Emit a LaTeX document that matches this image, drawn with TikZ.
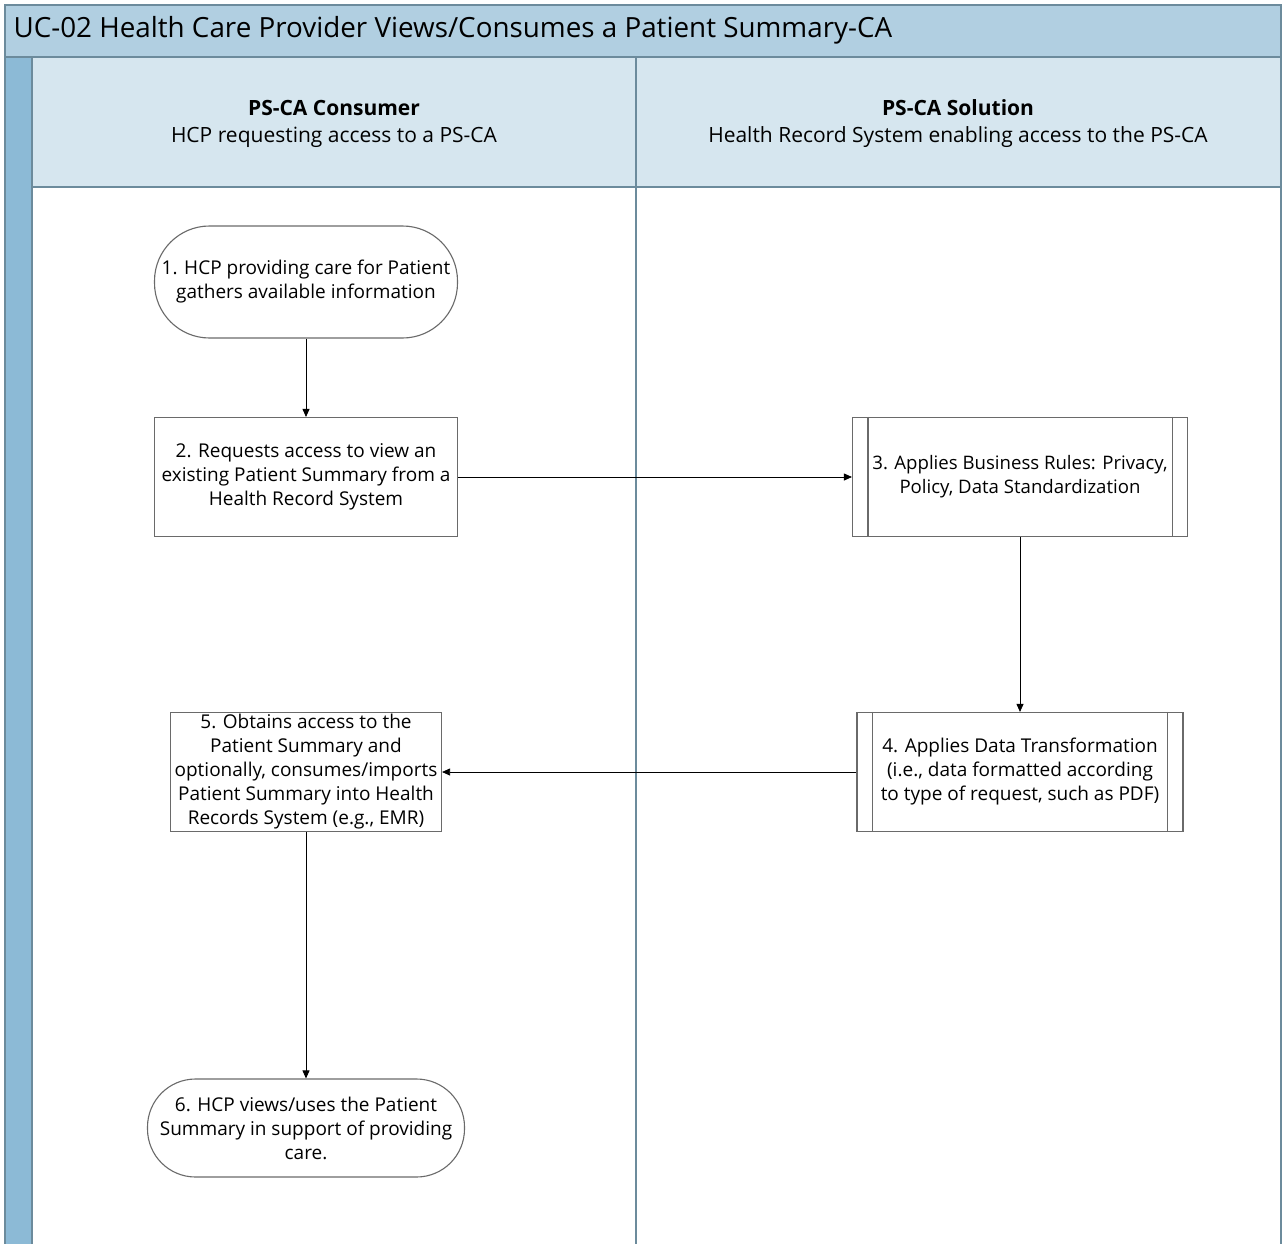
\documentclass[tikz,border=0pt]{standalone}
\usepackage{fontspec}
\setmainfont{Open Sans}
\usetikzlibrary{arrows.meta,calc}
\definecolor{titlebg}{HTML}{B1CFE1}
\definecolor{stripe}{HTML}{8CBAD6}
\definecolor{headbg}{HTML}{D6E6EF}
\definecolor{laneline}{HTML}{6C8B9C}
\definecolor{boxline}{HTML}{6A6A6A}
\begin{document}
\begin{tikzpicture}[x=1pt,y=-1pt,
  every node/.style={font=\fontsize{19}{24}\selectfont, text=black},
  stepbox/.style={draw=boxline, line width=1.1pt, fill=white, align=center, inner sep=1pt},
  termbox/.style={stepbox, rounded corners=#1},
  flow/.style={draw=black, line width=0.8pt, -{Triangle[length=8pt,width=7pt]}},
  lanehead/.style={align=center, font=\fontsize{21}{27}\selectfont}
]
\useasboundingbox (0,0) rectangle (1282,1244);
% frame
\fill[white] (5,5) rectangle (1281,1244);
\fill[titlebg] (5,5) rectangle (1281,57);
\fill[stripe] (5,57) rectangle (32,1244);
\fill[headbg] (32,57) rectangle (1281,187);
\draw[laneline, line width=1.2pt] (5,1244) -- (5,5) -- (1281,5) -- (1281,1244);
\draw[laneline, line width=1.2pt] (5,57) -- (1281,57);
\draw[laneline, line width=1.2pt] (32,57) -- (32,1244);
\draw[laneline, line width=1.2pt] (32,187) -- (1281,187);
\draw[laneline, line width=1.2pt] (636,57) -- (636,1244);
\node[anchor=west, font=\fontsize{27.8}{32}\selectfont] (title) at (10,30) {UC-02 Health Care Provider Views/Consumes a Patient Summary-CA};
\node[lanehead] (h1) at (334,124) {\textbf{PS-CA Consumer}\\HCP requesting access to a PS-CA};
\node[lanehead] (h2) at (958,124) {\textbf{PS-CA Solution}\\Health Record System enabling access to the PS-CA};
% nodes
\node[termbox=55pt, minimum width=303pt, minimum height=112pt] (n1) at (306,282) {1. HCP providing care for Patient\\gathers available information};
\node[stepbox, minimum width=303pt, minimum height=119pt] (n2) at (306,477) {2. Requests access to view an\\existing Patient Summary from a\\Health Record System};
\node[stepbox, minimum width=335pt, minimum height=119pt, font=\fontsize{18.6}{24}\selectfont] (n3) at (1020,477) {3. Applies Business Rules: Privacy,\\Policy, Data Standardization};
\draw[boxline, line width=1.1pt] ($(n3.north west)+(16,0)$) -- ($(n3.south west)+(16,0)$);
\draw[boxline, line width=1.1pt] ($(n3.north east)+(-16,0)$) -- ($(n3.south east)+(-16,0)$);
\node[stepbox, minimum width=326pt, minimum height=119pt] (n4) at (1020,772) {4. Applies Data Transformation\\(i.e., data formatted according\\to type of request, such as PDF)};
\draw[boxline, line width=1.1pt] ($(n4.north west)+(16,0)$) -- ($(n4.south west)+(16,0)$);
\draw[boxline, line width=1.1pt] ($(n4.north east)+(-16,0)$) -- ($(n4.south east)+(-16,0)$);
\node[stepbox, minimum width=271pt, minimum height=119pt] (n5) at (306,772) {5. Obtains access to the\\Patient Summary and\\optionally, consumes/imports\\Patient Summary into Health\\Records System (e.g., EMR)};
\node[termbox=48pt, minimum width=317pt, minimum height=98pt] (n6) at (306,1128) {6. HCP views/uses the Patient\\Summary in support of providing\\care.};
% connectors
\draw[flow] (n1) -- (n2);
\draw[flow] (n2) -- (n3);
\draw[flow] (n3) -- (n4);
\draw[flow] (n4) -- (n5);
\draw[flow] (n5) -- (n6);
\end{tikzpicture}
\end{document}
